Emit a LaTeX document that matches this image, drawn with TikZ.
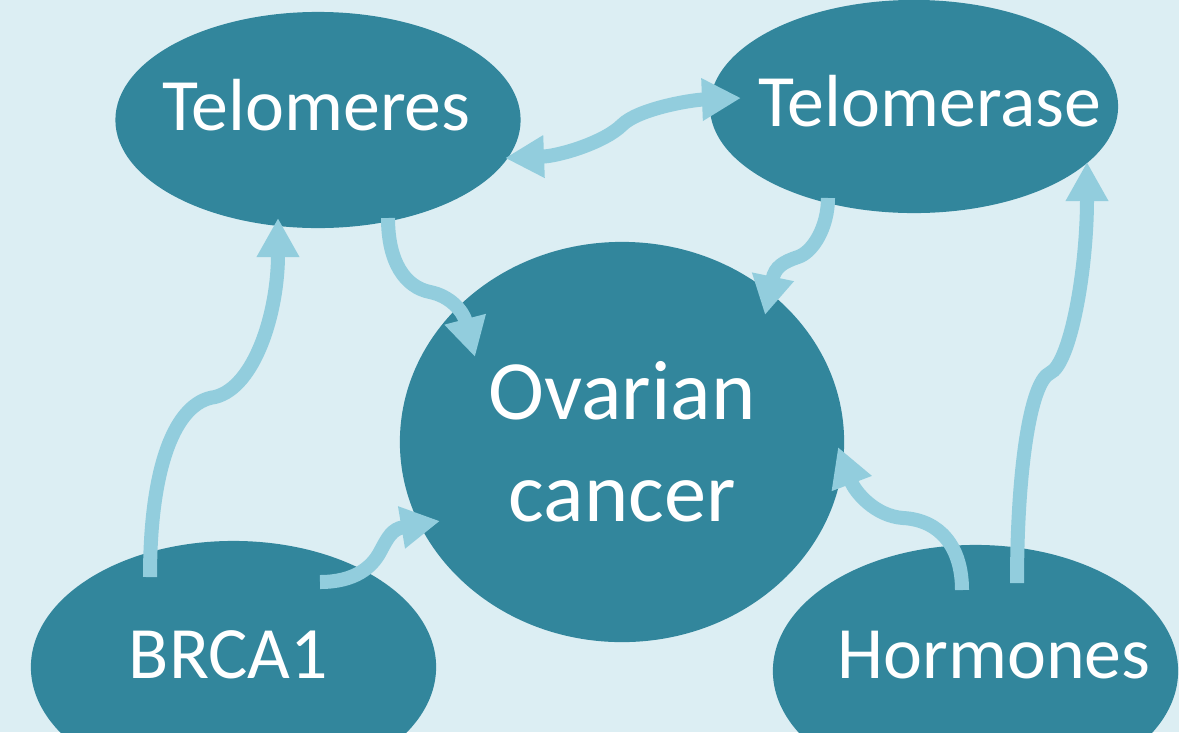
\documentclass[tikz,border=0pt]{standalone}
\usepackage{fontspec}
\setmainfont{Carlito}
\usetikzlibrary{shapes.geometric, arrows.meta, calc}
\definecolor{bgblue}{HTML}{DCEEF3}
\definecolor{nodeteal}{HTML}{32869C}
\definecolor{arrowblue}{HTML}{92CDDD}

\begin{document}
\begin{tikzpicture}[
  x=0.01cm, y=0.01cm,
  fat/.tip={Triangle[length=0.39cm, width=0.40cm]},
  blob/.style={ellipse, fill=nodeteal, inner sep=0pt},
  lbl/.style={anchor=base, text=white, font=\fontsize{21}{25}\selectfont},
  link/.style={draw=arrowblue, line width=0.14cm, -fat}
]
  % Background
  \fill[bgblue] (0,0) rectangle (1179,732);
  \useasboundingbox (0,0) rectangle (1179,732);

  %--- Nodes ---
  \node[blob, minimum width=4.05cm, minimum height=2.16cm] (telomeres) at (318,612) {};
  \node[blob, minimum width=4.08cm, minimum height=2.13cm] (telomerase) at (914,625.5) {};
  \node[blob, minimum width=4.44cm, minimum height=4cm, text=white, align=center,
        font=\fontsize{24}{29}\selectfont] (ovarian) at (622,290) {Ovarian\\cancer};
  \node[blob, minimum width=4.05cm, minimum height=2.52cm] (brca) at (233.5,65) {};
  \node[blob, minimum width=4.05cm, minimum height=2.52cm] (hormones) at (975.5,61) {};

  %--- Labels ---
  \node[lbl] at ($(telomeres)+(-1.5,-10)$) {Telomeres};
  \node[lbl] at ($(telomerase)+(16,-19.5)$) {Telomerase};
  \node[lbl] at ($(brca)+(-5,-11)$) {BRCA1};
  \node[lbl] at ($(hormones)+(18.5,-7)$) {Hormones};

  % Edges
  \draw[link, fat-fat] ($(telomeres)+(187,-38)$) .. controls +(55,2) and +(-17,-17) .. (622,607)
        .. controls +(16,16) and +(-51,-2) .. ($(telomerase)+(-173,8.5)$);
  \draw[link] ($(telomeres)+(70,-98)$) .. controls +(0,-44) and +(-25,5) .. (430,440)
        .. controls +(20,-4) and +(-12,46) .. ($(ovarian)+(-147,85)$);
  \draw[link] ($(telomerase)+(-86,-91.5)$) .. controls +(0,-29) and +(15,5) .. (798,475)
        .. controls +(-15,-5) and +(10,48) .. ($(ovarian)+(143,127)$);
  \draw[link] ($(brca)+(-83.5,90)$) .. controls +(0,110) and +(-40,-5) .. (215,335)
        .. controls +(40,10) and +(0,-94) .. ($(telomeres)+(-40,-98)$);
  \draw[link] ($(brca)+(86.5,85)$) .. controls +(35,0) and +(-8,-15) .. (380,180)
        .. controls +(8,15) and +(-48,-8) .. ($(ovarian)+(-182,-79)$);
  \draw[link] ($(hormones)+(-13.5,81)$) .. controls +(0,43) and +(37,-2) .. (903,214)
        .. controls +(-28,2) and +(17,-45) .. ($(ovarian)+(216,-5)$);
  \draw[link] ($(hormones)+(41.5,88)$) .. controls +(0,111) and +(-20,-9) .. (1050,359)
        .. controls +(20,9) and +(0,-110) .. ($(telomerase)+(173,-55.5)$);
\end{tikzpicture}
\end{document}
